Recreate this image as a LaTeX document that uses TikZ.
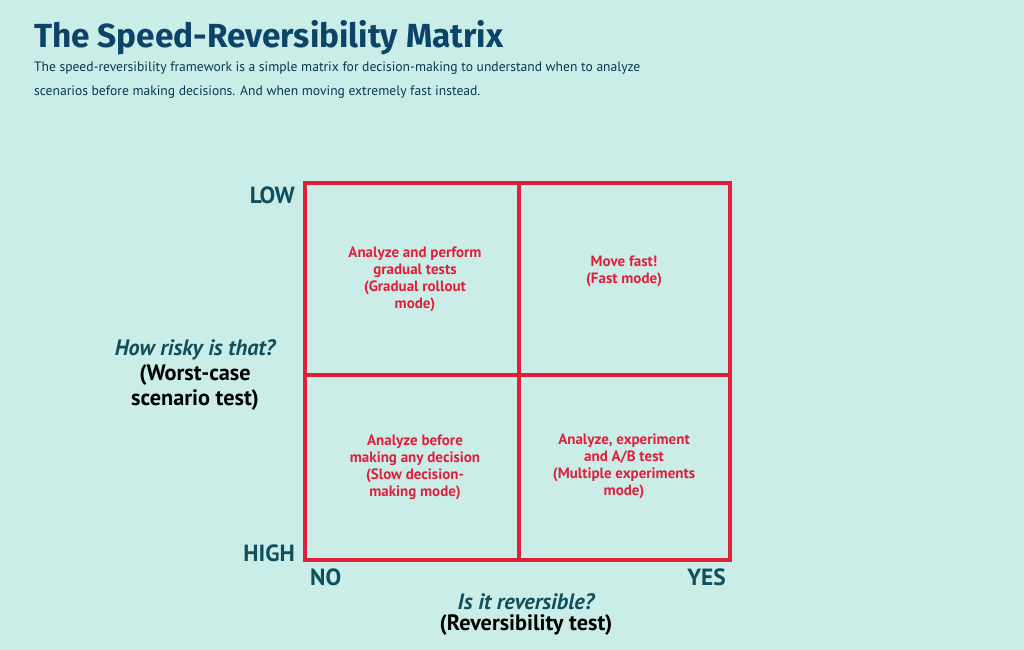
\documentclass[tikz,border=0pt]{standalone}
\usepackage{fontspec}
\setmainfont{PT Sans}
\newfontfamily\titlefont{Fira Sans}
\usetikzlibrary{positioning}
\definecolor{bgmint}{HTML}{CBEDE8}
\definecolor{titleblue}{HTML}{0B4468}
\definecolor{gridred}{HTML}{E0203A}
\definecolor{axisteal}{HTML}{0F4F5E}
\tikzset{
  celltext/.style={text=gridred, font=\bfseries\fontsize{12.8}{14.5}\selectfont, align=center},
  axisword/.style={text=axisteal, font=\bfseries\fontsize{20}{22}\selectfont},
  axisq/.style={text=axisteal, font=\bfseries\itshape\fontsize{19}{21}\selectfont},
  axistest/.style={text=black, font=\bfseries\fontsize{19}{21}\selectfont, align=center},
}
\begin{document}
\begin{tikzpicture}[x=0.03cm,y=-0.03cm]
\fill[bgmint] (0,0) rectangle (1024,650);
\useasboundingbox (0,0) rectangle (1024,650);
% title and intro
\node[anchor=west, text=titleblue, font=\titlefont\bfseries\fontsize{28.5}{31}\selectfont] (title) at (30,38) {The Speed-Reversibility Matrix};
\node[anchor=north west, text=titleblue!80!black, font=\fontsize{11.6}{20}\selectfont, align=left] (intro) at (30,58)
  {The speed-reversibility framework is a simple matrix for decision-making to understand when to analyze\\scenarios before making decisions. And when moving extremely fast instead.};
% grid
\draw[gridred, line width=3.3pt] (305,183) rectangle (730,560);
\draw[gridred, line width=3.3pt] (519,183) -- (519,560);
\draw[gridred, line width=3.3pt] (305,375) -- (730,375);
% cells
\node[celltext] (tl) at (415,279) {Analyze and perform\\gradual tests\\(Gradual rollout\\mode)};
\node[celltext] (tr) at (624,271) {Move fast!\\(Fast mode)};
\node[celltext] (bl) at (415,467) {Analyze before\\making any decision\\(Slow decision-\\making mode)};
\node[celltext] (br) at (624,466) {Analyze, experiment\\and A/B test\\(Multiple experiments\\mode)};
% axes
\node[axisword, anchor=east] (low) at (299,195) {LOW};
\node[axisword, anchor=east] (high) at (299,553) {HIGH};
\node[axisword, anchor=west] (no) at (306,577) {NO};
\node[axisword, anchor=east] (yes) at (730,577) {YES};
\node[axisq] (riskq) at (195,350) {How risky is that?};
\node[axistest, below=-3pt of riskq] (risktest) {(Worst-case\\scenario test)};
\node[axisq] (revq) at (526,602) {Is it reversible?};
\node[axistest, below=-3pt of revq] (revtest) {(Reversibility test)};
\end{tikzpicture}
\end{document}
